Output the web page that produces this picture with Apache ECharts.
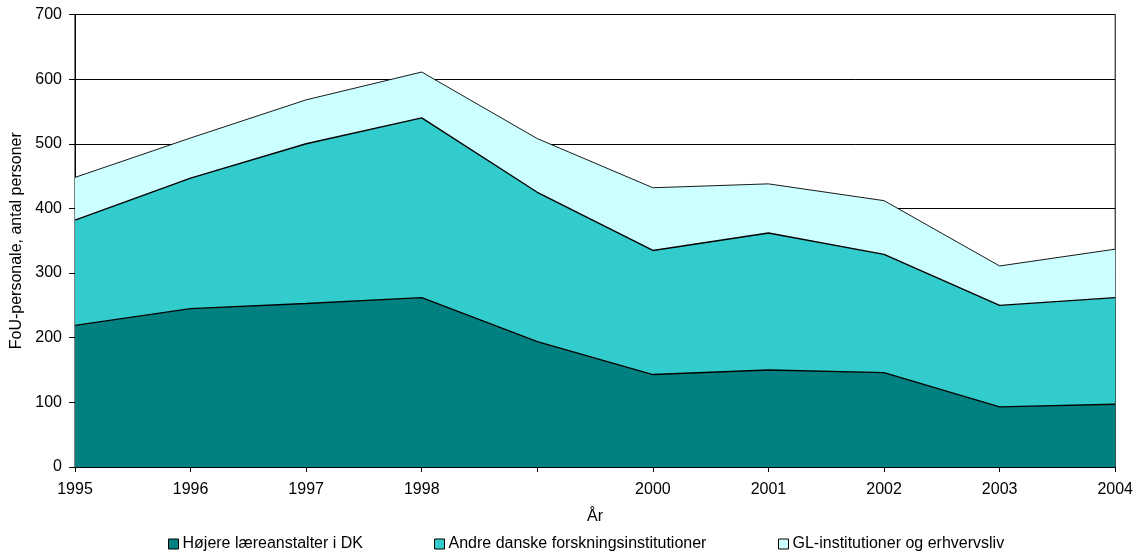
<!DOCTYPE html>
<html>
<head>
<meta charset="utf-8">
<script src="https://cdn.jsdelivr.net/npm/echarts@6/dist/echarts.min.js"></script>
<style>
html,body{margin:0;padding:0;background:#fff;}
#chart{width:1136px;height:551px;}
</style>
</head>
<body>
<div id="chart"></div>
<script>
const categories = ["1995","1996","1997","1998","1999","2000","2001","2002","2003","2004"];
const tickLabels = ["1995","1996","1997","1998","","2000","2001","2002","2003","2004"];
const seriesNames = ["Højere læreanstalter i DK","Andre danske forskningsinstitutioner","GL-institutioner og erhvervsliv"];
const hojere = [219, 245, 253, 262, 194, 143, 150, 146, 93, 97];
const andre  = [163, 202, 247, 278, 231, 192, 212, 183, 157, 165];
const gl     = [66, 62, 68, 71, 83, 97, 76, 83, 61, 75];
const yTicks = [0,100,200,300,400,500,600,700];

const colors = ["#008080","#33CCCC","#CCFFFF"];
const font = "'Liberation Sans', Arial, sans-serif";
const chart = echarts.init(document.getElementById('chart'), null, {renderer:'canvas'});

function mkSeries(name, data, color, lw){
  return {
    name: name, type: 'line', stack: 'total', data: data,
    symbol: 'none', smooth: false,
    lineStyle: {color: '#000', width: lw},
    itemStyle: {color: color},
    areaStyle: {color: color, opacity: 1},
    emphasis: {disabled: true}
  };
}
function mkLegend(name, left){
  return {
    data: [name], left: left, top: 536, padding: 0, itemWidth: 10, itemHeight: 10, itemGap: 0,
    icon: 'rect',
    itemStyle: {borderColor: '#000', borderWidth: 1},
    textStyle: {fontFamily: font, fontSize: 16, color: '#000', padding: [0,0,0,-1]},
    selectedMode: false
  };
}

chart.setOption({
  animation: false,
  backgroundColor: '#fff',
  grid: {left: 75, right: 20, top: 14.5, bottom: 84, show: true, borderColor: '#000', borderWidth: 1, backgroundColor: 'transparent'},
  legend: [mkLegend(seriesNames[0], 168), mkLegend(seriesNames[1], 434), mkLegend(seriesNames[2], 778)],
  xAxis: {
    type: 'category', data: categories, boundaryGap: false,
    name: 'År', nameLocation: 'middle', nameGap: 42,
    nameTextStyle: {fontFamily: font, fontSize: 16, color: '#000'},
    axisLine: {lineStyle: {color: '#000', width: 1}},
    axisTick: {show: true, length: 5, lineStyle: {color: '#000'}},
    axisLabel: {fontFamily: font, fontSize: 16, color: '#000', margin: 15,
      formatter: (v, i) => tickLabels[i]},
    splitLine: {show: false}
  },
  yAxis: {
    type: 'value', min: yTicks[0], max: yTicks[yTicks.length-1], interval: 100,
    name: 'FoU-personale, antal personer', nameLocation: 'middle', nameGap: 50,
    nameTextStyle: {fontFamily: font, fontSize: 16, color: '#000'},
    axisLine: {show: true, lineStyle: {color: '#000', width: 1}},
    axisTick: {show: true, length: 6, lineStyle: {color: '#000'}},
    axisLabel: {fontFamily: font, fontSize: 16, color: '#000', margin: 13},
    splitLine: {show: true, lineStyle: {color: '#000', width: 1}}
  },
  series: [
    mkSeries(seriesNames[0], hojere, colors[0], 1.4),
    mkSeries(seriesNames[1], andre, colors[1], 1.4),
    mkSeries(seriesNames[2], gl, colors[2], 0.9)
  ]
});
</script>
</body>
</html>
